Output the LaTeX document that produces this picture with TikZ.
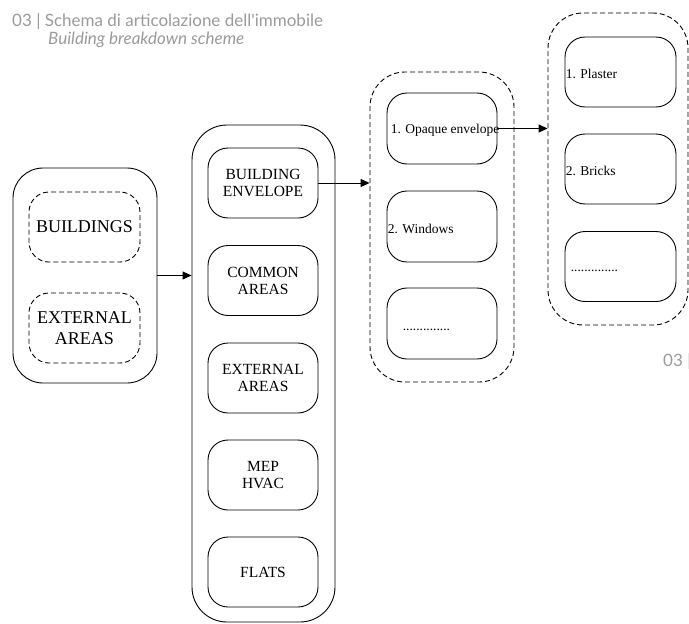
\documentclass[tikz,border=0pt]{standalone}
\usepackage{fontspec}
\setmainfont{Liberation Serif}
\newfontfamily\headfont{Lato}
\usetikzlibrary{arrows.meta}
\definecolor{headgray}{HTML}{9A9A9A}
\tikzset{
  box/.style={draw, line width=0.9pt, rounded corners=#1, inner sep=0pt, align=center},
  box/.default=20pt,
  dashbox/.style={box=#1, dash pattern=on 5pt off 3pt},
  dashbox/.default=20pt,
  big/.style={font=\fontsize{18}{21.5}\selectfont},
  mid/.style={font=\fontsize{15.5}{17}\selectfont},
  small/.style={font=\fontsize{13.5}{16}\selectfont},
  conn/.style={line width=0.9pt, -{Triangle[length=9pt,width=8pt]}},
  head/.style={text=headgray, inner sep=0pt, anchor=base west}
}
\begin{document}
\begin{tikzpicture}[x=1pt,y=-1pt]
\useasboundingbox (0,0) rectangle (689,624);
% header
\node[head, font=\headfont\fontsize{17}{20}\selectfont] (h1) at (12,26) {03 | Schema di articolazione dell'immobile};
\node[head, font=\headfont\itshape\fontsize{17}{20}\selectfont] (h2) at (48,44) {Building breakdown scheme};
\node[head, font=\headfont\fontsize{17}{20}\selectfont] (h3) at (663,366) {03 |};
% column A
\node[box=30pt, minimum width=144pt, minimum height=215pt] (A) at (85,275.5) {};
\node[dashbox, big, minimum width=111pt, minimum height=70pt] (A1) at (84.5,227) {BUILDINGS};
\node[dashbox, big, minimum width=111pt, minimum height=70pt] (A2) at (84.5,328) {EXTERNAL\\AREAS};
% column B
\node[box=35pt, minimum width=143pt, minimum height=497pt] (B) at (263.5,373.5) {};
\node[box, mid, minimum width=110pt, minimum height=70pt] (B1) at (263,183) {BUILDING\\ENVELOPE};
\node[box, mid, minimum width=110pt, minimum height=70pt] (B2) at (263,280.5) {COMMON\\AREAS};
\node[box, mid, minimum width=110pt, minimum height=70pt] (B3) at (263,378) {EXTERNAL\\AREAS};
\node[box, mid, minimum width=110pt, minimum height=70pt] (B4) at (263,475) {MEP\\HVAC};
\node[box, mid, minimum width=110pt, minimum height=70pt] (B5) at (263,572) {FLATS};
% column C
\node[dashbox=35pt, minimum width=144pt, minimum height=310pt] (C) at (442,227) {};
\node[box, minimum width=110pt, minimum height=71pt] (C1) at (442,128.5) {};
\node[box, minimum width=110pt, minimum height=71pt] (C2) at (442,226.5) {};
\node[box, minimum width=110pt, minimum height=71pt] (C3) at (442,323.5) {};
\node[small, anchor=west, inner sep=0pt] (C1t) at ([xshift=4pt,yshift=-2pt]C1.west) {1. Opaque envelope};
\node[small, anchor=west, inner sep=0pt] (C2t) at ([xshift=1pt,yshift=-2pt]C2.west) {2. Windows};
\node[small, anchor=west, inner sep=0pt] (C3t) at ([xshift=16pt,yshift=-6pt]C3.west) {..............};
% column D
\node[dashbox=35pt, minimum width=140pt, minimum height=312pt] (D) at (618,169) {};
\node[box, minimum width=111pt, minimum height=70pt] (D1) at (620.5,72) {};
\node[box, minimum width=111pt, minimum height=70pt] (D2) at (620.5,169) {};
\node[box, minimum width=111pt, minimum height=70pt] (D3) at (620.5,266.5) {};
\node[small, anchor=west, inner sep=0pt] (D1t) at ([xshift=1pt,yshift=-2pt]D1.west) {1. Plaster};
\node[small, anchor=west, inner sep=0pt] (D2t) at ([xshift=1pt,yshift=-2pt]D2.west) {2. Bricks};
\node[small, anchor=west, inner sep=0pt] (D3t) at ([xshift=6pt,yshift=-4pt]D3.west) {..............};
% connectors
\draw[conn] (A.east) -- (A.east -| B.west);
\draw[conn] (B1.east) -- (B1.east -| C.west);
\draw[conn] (C1.east) -- (C1.east -| D.west);
\end{tikzpicture}
\end{document}
